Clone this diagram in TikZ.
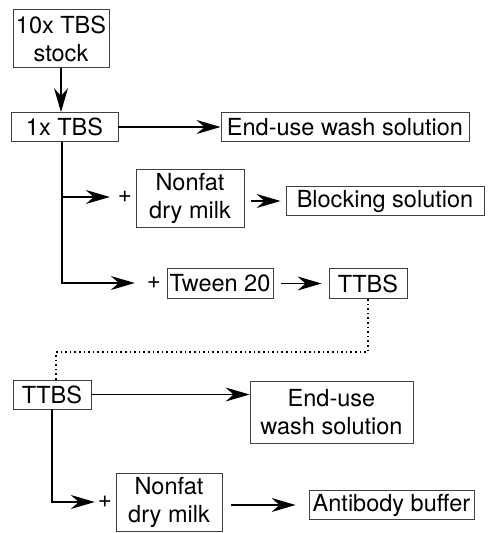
\documentclass[tikz,border=0pt]{standalone}
\usepackage{fontspec}
\setmainfont{TeX Gyre Heros}
\usetikzlibrary{arrows.meta}
\begin{document}
\begin{tikzpicture}[x=1pt,y=-1pt,
  box/.style={draw=black!75, line width=0.9pt, inner sep=0pt, align=center,
    font=\fontsize{23.5}{28}\selectfont},
  plus/.style={inner sep=2pt, font=\fontsize{24}{28}\selectfont},
  conn/.style={line width=1pt},
  arr/.style={line width=1.1pt, -{Stealth[length=24pt,width=14pt,inset=8pt]}},
  dots/.style={line width=1.6pt, dash pattern=on 1.6pt off 3pt}]
\useasboundingbox (0,0) rectangle (490,533);
% boxes
\node[box, minimum width=96pt, minimum height=58pt] (stock) at (61,38.5) {10x TBS\\stock};
\node[box, minimum width=107pt, minimum height=29pt] (tbs1) at (64.5,127) {1x TBS};
\node[box, minimum width=248pt, minimum height=29pt] (end1) at (345,127) {End-use wash solution};
\node[box, minimum width=108pt, minimum height=58pt] (milk1) at (190,198.5) {Nonfat\\dry milk};
\node[box, minimum width=198pt, minimum height=29pt] (block) at (385,201) {Blocking solution};
\node[box, minimum width=106pt, minimum height=30pt] (tween) at (220,283.5) {Tween 20};
\node[box, minimum width=78pt, minimum height=30pt] (ttbs1) at (368,283.5) {TTBS};
\node[box, minimum width=78pt, minimum height=29pt] (ttbs2) at (52,394.5) {TTBS};
\node[box, minimum width=163pt, minimum height=62pt] (end2) at (331.5,412) {End-use\\wash solution};
\node[box, minimum width=106pt, minimum height=58pt] (milk2) at (169,502) {Nonfat\\dry milk};
\node[box, minimum width=165pt, minimum height=29pt] (anti) at (391.5,505) {Antibody buffer};
% plus signs
\node[plus] (p1) at (125,197) {+};
\node[plus] (p2) at (154,283) {+};
\node[plus] (p3) at (105,502) {+};
% coordinates
\coordinate (b1) at (62,197);
\coordinate (b2) at (62,283);
\coordinate (d1) at (0,352);
% connectors
\draw[arr] (stock.south) -- (stock.south |- tbs1.north);
\draw[arr] (tbs1.east) -- (end1.west);
\draw[arr] (tbs1.south -| b2) -- (b2) -- ([xshift=-10pt]p2.west);
\draw[arr] (b1) -- ([xshift=-6pt]p1.west);
\draw[arr, shorten <=7pt, shorten >=5pt] (milk1.east |- block.west) -- (block.west);
\draw[arr, shorten <=8pt, shorten >=7pt] (tween.east) -- (ttbs1.west);
\draw[dots] (ttbs1.south) -- (ttbs1.south |- d1) -| ([xshift=4pt]ttbs2.north);
\draw[arr] (ttbs2.east) -- (ttbs2.east -| end2.west);
\draw[arr] (ttbs2.south) |- ([xshift=-1pt]p3.west);
\draw[arr, shorten <=9pt, shorten >=13pt] (milk2.east |- anti.west) -- (anti.west);
\end{tikzpicture}
\end{document}
